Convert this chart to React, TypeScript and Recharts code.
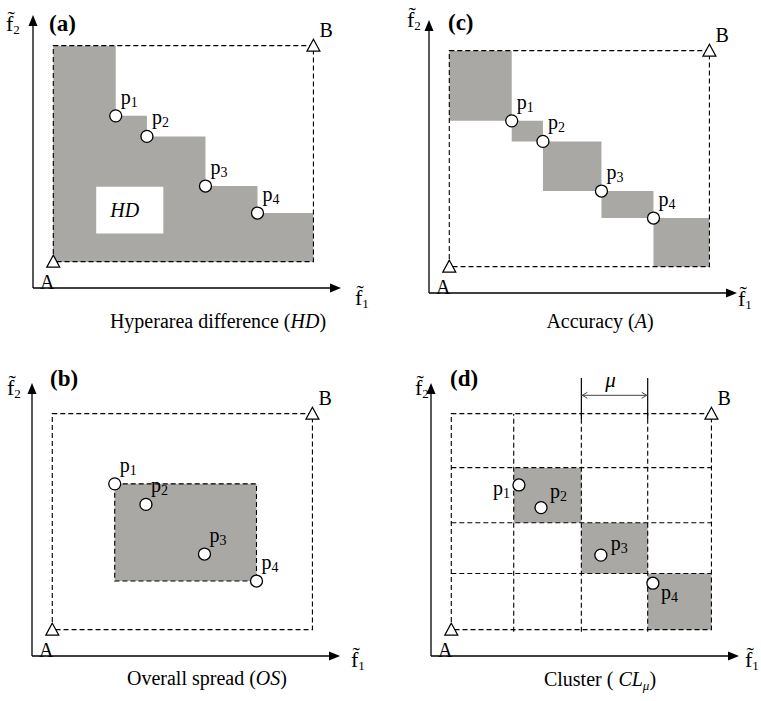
import React from "react";
import {
  ComposedChart,
  XAxis,
  YAxis,
  Scatter,
  ReferenceArea,
  ReferenceLine,
} from "recharts";

const FONT = '"Liberation Serif", "Times New Roman", serif';
const GRAY = "#a9a8a4";
const DASH = "5 3";

// normalised objective space: A = (0,0), B = (10,10)
const X_DOMAIN = [-0.78, 11.06];
const Y_DOMAIN = [-1.22, 11.42];

const corners = [
  { name: "A", x: 0, y: 0 },
  { name: "B", x: 10, y: 10 },
];

const points = [
  { name: "1", x: 2.4, y: 6.75 },
  { name: "2", x: 3.6, y: 5.8 },
  { name: "3", x: 5.85, y: 3.5 },
  { name: "4", x: 7.85, y: 2.25 },
];

const clusterPoints = [
  { name: "1", x: 2.6, y: 6.7 },
  { name: "2", x: 3.45, y: 5.65 },
  { name: "3", x: 5.75, y: 3.45 },
  { name: "4", x: 7.75, y: 2.15 },
];

const gridX = [0, 2.4, 5.0, 7.55, 10];
const gridY = [0, 2.6, 4.95, 7.5, 10];
// [column, row] of the occupied cells
const clusterCells = [
  [1, 2],
  [2, 1],
  [3, 0],
];
const muColumn = 2;

const hdBox = { x1: 1.65, x2: 4.23, y1: 1.3, y2: 3.47 };

const A = corners[0];
const B = corners[1];
const last = points[points.length - 1];

// dominated region as overlapping rectangles anchored at A (no seams)
const hdSteps = [
  ...points.map((p, i) => ({
    x2: p.x,
    y2: i === 0 ? B.y : points[i - 1].y,
  })),
  { x2: B.x, y2: last.y },
];

const accuracyRects = [
  ...points.map((p, i) => ({
    x1: i === 0 ? A.x : points[i - 1].x,
    x2: p.x,
    y1: p.y,
    y2: i === 0 ? B.y : points[i - 1].y,
  })),
  { x1: last.x, x2: B.x, y1: A.y, y2: last.y },
];

const xs = points.map((p) => p.x);
const ys = points.map((p) => p.y);
const spreadRect = {
  x1: Math.min(...xs),
  x2: Math.max(...xs),
  y1: Math.min(...ys),
  y2: Math.max(...ys),
};

const axisTips = { x0: X_DOMAIN[0], x1: X_DOMAIN[1], y0: Y_DOMAIN[0], y1: Y_DOMAIN[1] };

// label placement, relative to the marker centre
const defaultLabel = { dx: 5, dy: -12, anchor: "start" };
const clusterLabels: Record<string, any> = {
  "1": { dx: -9, dy: 10, anchor: "end" },
  "2": { dx: 9, dy: -10, anchor: "start" },
  "3": { dx: 10, dy: -5, anchor: "start" },
  "4": { dx: 8, dy: 16, anchor: "start" },
};
const cornerLabels: Record<string, any> = {
  A: { dx: -6, dy: 27, anchor: "middle" },
  B: { dx: 6, dy: -9, anchor: "start" },
};

const W = 308;
const H = 273;
const M = 30;

const arrowLine = (props: any) => {
  const { x1, y1, x2, y2 } = props;
  const len = Math.hypot(x2 - x1, y2 - y1) || 1;
  const ux = (x2 - x1) / len;
  const uy = (y2 - y1) / len;
  const bx = x2 - ux * 11;
  const by = y2 - uy * 11;
  return (
    <g>
      <line x1={x1} y1={y1} x2={bx} y2={by} stroke="#000" strokeWidth={1.3} />
      <path
        d={`M${x2},${y2} L${bx - uy * 4.5},${by + ux * 4.5} L${bx + uy * 4.5},${by - ux * 4.5} Z`}
        fill="#000"
      />
    </g>
  );
};

const muShape = (props: any) => {
  const { x1, y1, x2 } = props;
  const a = 6;
  return (
    <g>
      <line x1={x1} y1={y1} x2={x2} y2={y1} stroke="#444" strokeWidth={1} />
      <path d={`M${x1 + a},${y1 - 3} L${x1 + 1},${y1} L${x1 + a},${y1 + 3}`} fill="none" stroke="#444" strokeWidth={1} />
      <path d={`M${x2 - a},${y1 - 3} L${x2 - 1},${y1} L${x2 - a},${y1 + 3}`} fill="none" stroke="#444" strokeWidth={1} />
      <text
        x={(x1 + x2) / 2 - 4}
        y={y1 - 8}
        textAnchor="middle"
        fontFamily={FONT}
        fontStyle="italic"
        fontSize={21}
      >
        μ
      </text>
    </g>
  );
};

const pointShape = (labels: Record<string, any>) => (props: any) => {
  const { cx, cy, payload } = props;
  if (cx == null || cy == null) return <g />;
  const o = labels[payload.name] || defaultLabel;
  return (
    <g>
      <circle cx={cx} cy={cy} r={6} fill="#fff" stroke="#000" strokeWidth={1.3} />
      <text
        x={cx + o.dx}
        y={cy + o.dy}
        textAnchor={o.anchor}
        fontFamily={FONT}
        fontSize={20}
      >
        p
        <tspan fontSize={14} dy={3}>
          {payload.name}
        </tspan>
      </text>
    </g>
  );
};

const cornerShape = (props: any) => {
  const { cx, cy, payload } = props;
  if (cx == null || cy == null) return <g />;
  const o = cornerLabels[payload.name];
  return (
    <g>
      <path
        d={`M${cx},${cy - 6.5} L${cx - 6.5},${cy + 5.5} L${cx + 6.5},${cy + 5.5} Z`}
        fill="#fff"
        stroke="#000"
        strokeWidth={1.2}
      />
      <text
        x={cx + o.dx}
        y={cy + o.dy}
        textAnchor={o.anchor}
        fontFamily={FONT}
        fontSize={20}
      >
        {payload.name}
      </text>
    </g>
  );
};

const axes = () => [
  <ReferenceLine
    key="ax-x"
    segment={[
      { x: axisTips.x0, y: axisTips.y0 },
      { x: axisTips.x1, y: axisTips.y0 },
    ]}
    ifOverflow="visible"
    shape={arrowLine}
  />,
  <ReferenceLine
    key="ax-y"
    segment={[
      { x: axisTips.x0, y: axisTips.y0 },
      { x: axisTips.x0, y: axisTips.y1 },
    ]}
    ifOverflow="visible"
    shape={arrowLine}
  />,
];

const frame = (key: string) => (
  <ReferenceArea
    key={key}
    x1={A.x}
    x2={B.x}
    y1={A.y}
    y2={B.y}
    fill="none"
    fillOpacity={0}
    stroke="#000"
    strokeWidth={1.1}
    strokeDasharray={DASH}
    ifOverflow="visible"
  />
);

const markers = (data: any[], labels: Record<string, any>) => [
  <Scatter
    key="pts"
    data={data}
    isAnimationActive={false}
    shape={pointShape(labels)}
  />,
  <Scatter
    key="corners"
    data={corners}
    isAnimationActive={false}
    shape={cornerShape}
  />,
];

function Panel({ left, top, children }: { left: number; top: number; children: any }) {
  return (
    <div style={{ position: "absolute", left: left - M, top: top - M }}>
      <ComposedChart
        width={W + 2 * M}
        height={H + 2 * M}
        margin={{ top: M, right: M, bottom: M, left: M }}
      >
        <XAxis type="number" dataKey="x" domain={X_DOMAIN} hide />
        <YAxis type="number" dataKey="y" domain={Y_DOMAIN} hide />
        {children}
      </ComposedChart>
    </div>
  );
}

const Sub = ({ children }: any) => (
  <tspan fontSize={13} dy={3}>
    {children}
  </tspan>
);

const titles = [
  { text: "(a)", x: 49, y: 31 },
  { text: "(c)", x: 448, y: 30 },
  { text: "(b)", x: 50, y: 386 },
  { text: "(d)", x: 450, y: 386 },
];
const f2Labels = [
  { x: 6, y: 31 },
  { x: 407, y: 27 },
  { x: 7, y: 395 },
  { x: 415, y: 395 },
];
const f1Labels = [
  { x: 355, y: 305 },
  { x: 738, y: 306 },
  { x: 351, y: 667 },
  { x: 745, y: 667 },
];

export default function App() {
  return (
    <div
      style={{
        position: "absolute",
        left: 0,
        top: 0,
        width: 761,
        height: 701,
        overflow: "hidden",
        background: "#fff",
      }}
    >
      {/* (a) hyperarea difference */}
      <Panel left={33} top={15}>
        {hdSteps.map((s, i) => (
          <ReferenceArea
            key={`hd${i}`}
            x1={A.x}
            x2={s.x2}
            y1={A.y}
            y2={s.y2}
            fill={GRAY}
            fillOpacity={1}
          />
        ))}
        <ReferenceArea
          x1={hdBox.x1}
          x2={hdBox.x2}
          y1={hdBox.y1}
          y2={hdBox.y2}
          fill="#fff"
          fillOpacity={1}
          label={{
            value: "HD",
            position: "center",
            fill: "#000",
            fontSize: 20,
            fontStyle: "italic",
            fontFamily: FONT,
            dx: -5,
          }}
        />
        {frame("frame")}
        {axes()}
        {markers(points, {})}
      </Panel>

      {/* (c) accuracy */}
      <Panel left={429} top={20}>
        {accuracyRects.map((r, i) => (
          <ReferenceArea
            key={`ac${i}`}
            x1={r.x1}
            x2={r.x2}
            y1={r.y1}
            y2={r.y2}
            fill={GRAY}
            fillOpacity={1}
          />
        ))}
        {frame("frame")}
        {axes()}
        {markers(points, {})}
      </Panel>

      {/* (b) overall spread */}
      <Panel left={32} top={383}>
        <ReferenceArea
          x1={spreadRect.x1}
          x2={spreadRect.x2}
          y1={spreadRect.y1}
          y2={spreadRect.y2}
          fill={GRAY}
          fillOpacity={1}
          stroke="#000"
          strokeWidth={1.1}
          strokeDasharray={DASH}
        />
        {frame("frame")}
        {axes()}
        {markers(points, {})}
      </Panel>

      {/* (d) cluster */}
      <Panel left={431} top={383}>
        {clusterCells.map(([c, r], i) => (
          <ReferenceArea
            key={`cell${i}`}
            x1={gridX[c]}
            x2={gridX[c + 1]}
            y1={gridY[r]}
            y2={gridY[r + 1]}
            fill={GRAY}
            fillOpacity={1}
          />
        ))}
        {gridX.slice(1, -1).map((gx) => (
          <ReferenceLine
            key={`gx${gx}`}
            segment={[
              { x: gx, y: A.y - 0.1 },
              { x: gx, y: B.y },
            ]}
            stroke="#000"
            strokeWidth={1.1}
            strokeDasharray={DASH}
            ifOverflow="visible"
          />
        ))}
        {gridY.slice(1, -1).map((gy) => (
          <ReferenceLine
            key={`gy${gy}`}
            segment={[
              { x: A.x, y: gy },
              { x: B.x, y: gy },
            ]}
            stroke="#000"
            strokeWidth={1.1}
            strokeDasharray={DASH}
            ifOverflow="visible"
          />
        ))}
        {[gridX[muColumn], gridX[muColumn + 1]].map((gx) => (
          <ReferenceLine
            key={`mu${gx}`}
            segment={[
              { x: gx, y: B.y - 0.25 },
              { x: gx, y: B.y + 1.65 },
            ]}
            stroke="#000"
            strokeWidth={1.2}
            ifOverflow="visible"
          />
        ))}
        <ReferenceLine
          segment={[
            { x: gridX[muColumn], y: B.y + 0.85 },
            { x: gridX[muColumn + 1], y: B.y + 0.85 },
          ]}
          ifOverflow="visible"
          shape={muShape}
        />
        {frame("frame")}
        {axes()}
        {markers(clusterPoints, clusterLabels)}
      </Panel>

      <svg
        width={761}
        height={701}
        style={{ position: "absolute", left: 0, top: 0, pointerEvents: "none" }}
        fontFamily={FONT}
      >
        {titles.map((t) => (
          <text key={t.text} x={t.x} y={t.y} fontSize={23} fontWeight="bold">
            {t.text}
          </text>
        ))}
        {f2Labels.map((f, i) => (
          <text key={`f2${i}`} x={f.x} y={f.y} fontSize={22}>
            {"f\u0303"}
            <Sub>2</Sub>
          </text>
        ))}
        {f1Labels.map((f, i) => (
          <text key={`f1${i}`} x={f.x} y={f.y} fontSize={22}>
            {"f\u0303"}
            <Sub>1</Sub>
          </text>
        ))}
        <text x={218} y={328} fontSize={20} textAnchor="middle">
          Hyperarea difference (<tspan fontStyle="italic">HD</tspan>)
        </text>
        <text x={600} y={328} fontSize={20} textAnchor="middle">
          Accuracy (<tspan fontStyle="italic">A</tspan>)
        </text>
        <text x={207} y={685} fontSize={20} textAnchor="middle">
          Overall spread (<tspan fontStyle="italic">OS</tspan>)
        </text>
        <text x={600} y={686} fontSize={20} textAnchor="middle">
          Cluster ( <tspan fontStyle="italic">CL</tspan>
          <tspan fontStyle="italic" fontSize={13} dy={4}>
            μ
          </tspan>
          <tspan dy={-4}>)</tspan>
        </text>
      </svg>
    </div>
  );
}
